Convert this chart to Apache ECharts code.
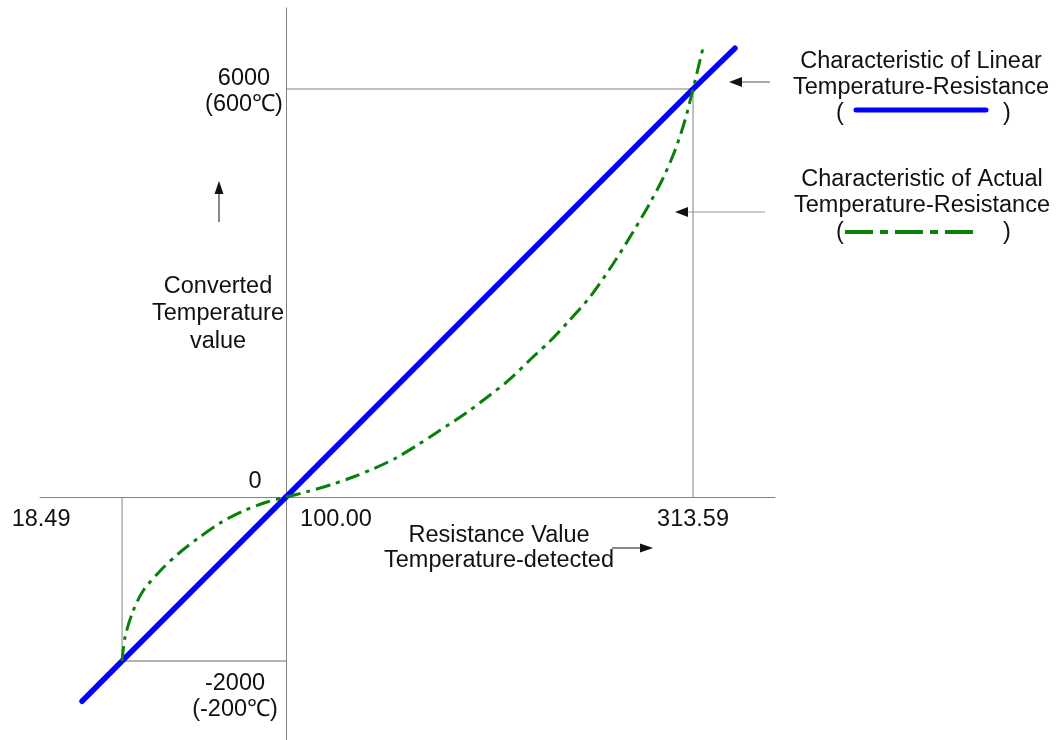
<!DOCTYPE html>
<html>
<head>
<meta charset="utf-8">
<script src="https://cdn.jsdelivr.net/npm/echarts@6/dist/echarts.min.js"></script>
<style>
  html, body { margin: 0; padding: 0; background: #ffffff; }
  #chart { width: 1062px; height: 740px; }
</style>
</head>
<body>
<div id="chart"></div>
<script>
// Resistance (ohm) on x, converted temperature value (0.1 degC units) on y.
// The positive quadrant (100..313.59 ohm, 0..6000) and the negative quadrant
// (18.49..100 ohm, -2000..0) are drawn on two grids with their own scales.

// Linear temperature-resistance characteristic
const linearUpper = [[100, 0], [313.59, 6000], [335.6, 6600]];
const linearLower = [[-1.4, -2490], [18.49, -2000], [100, 0]];

// Actual temperature-resistance characteristic
const actualUpper = [
  [100, 0], [110.5, 74], [123.1, 176], [135.2, 294], [146.7, 426], [157.7, 574],
  [168.2, 750], [178.7, 941], [194.5, 1235], [207.1, 1500], [217.0, 1721],
  [229.6, 2059], [238.6, 2294], [247.5, 2559], [259.5, 2941], [271.6, 3426],
  [282.1, 3897], [291.0, 4324], [297.9, 4691], [304.2, 5103], [309.4, 5544],
  [313.59, 6000], [318.8, 6603]
];
const actualLower = [
  [18.49, -2000], [20.0, -1707], [24.0, -1390], [28.9, -1146], [37.4, -902],
  [46.3, -695], [55.8, -512], [67.2, -317], [78.6, -171], [90.6, -61], [100, 0]
];

// Reference guides at the range limits
const guideUpper = [[313.59, 0], [313.59, 6000], [100, 6000]];
const guideLowerV = [[18.49, 0], [18.49, -2000]];
const guideLowerH = [[18.49, -2000], [100, -2000]];

// Tick labels
const xTickValues = [18.49, 100, 313.59];
const xTickLabels = ['18.49', '100.00', '313.59'];
const yTickValues = [6000, 0, -2000];
const yTickLabels = ['6000\n(600\u2103)', '0', '-2000\n(-200\u2103)'];

// Label placement relative to the tick position (pixels)
const xTickOffsets = [[-81, 23], [50, 23], [0, 23]];
const yTickOffsets = [[-42, 3], [-31, -15], [-51, 35]];

const FONT = '23.5px "Liberation Sans", Arial, sans-serif';
const INK = '#111111';
const AXIS_GREY = '#808080';

const hiddenParts = {
  axisTick: { show: false },
  axisLabel: { show: false },
  splitLine: { show: false }
};
function axisLine() {
  return { show: true, onZero: false, lineStyle: { color: AXIS_GREY, width: 1 } };
}

const chart = echarts.init(document.getElementById('chart'), null, { renderer: 'canvas' });

const option = {
  animation: false,
  backgroundColor: '#ffffff',
  grid: [
    { left: 286, top: 8, width: 489, height: 489, outerBoundsMode: 'none', containLabel: false },
    { left: 40, top: 497, width: 246, height: 243, outerBoundsMode: 'none', containLabel: false }
  ],
  xAxis: [
    Object.assign({ gridIndex: 0, type: 'value', min: 100, max: 356.6, position: 'bottom', axisLine: axisLine() }, hiddenParts),
    Object.assign({ gridIndex: 1, type: 'value', min: -22.3, max: 100, position: 'top', axisLine: axisLine() }, hiddenParts)
  ],
  yAxis: [
    Object.assign({ gridIndex: 0, type: 'value', min: 0, max: 7191, position: 'left', axisLine: axisLine() }, hiddenParts),
    Object.assign({ gridIndex: 1, type: 'value', min: -2963, max: 0, position: 'right', axisLine: axisLine() }, hiddenParts)
  ],
  series: [
    {
      type: 'line', xAxisIndex: 0, yAxisIndex: 0, data: guideUpper, symbol: 'none', silent: true, z: 1,
      lineStyle: { color: AXIS_GREY, width: 1 }
    },
    {
      type: 'line', xAxisIndex: 1, yAxisIndex: 1, data: guideLowerV, symbol: 'none', silent: true, z: 1,
      lineStyle: { color: AXIS_GREY, width: 1 }
    },
    {
      type: 'line', xAxisIndex: 1, yAxisIndex: 1, data: guideLowerH, symbol: 'none', silent: true, z: 1,
      lineStyle: { color: '#b4b4b4', width: 2 }
    },
    {
      name: 'Linear', type: 'line', xAxisIndex: 0, yAxisIndex: 0, data: linearUpper, symbol: 'none', z: 2,
      lineStyle: { color: '#0000ff', width: 5.5, cap: 'round' }
    },
    {
      name: 'Linear', type: 'line', xAxisIndex: 1, yAxisIndex: 1, data: linearLower, symbol: 'none', z: 2,
      lineStyle: { color: '#0000ff', width: 5.5, cap: 'round' }
    },
    {
      name: 'Actual', type: 'line', xAxisIndex: 0, yAxisIndex: 0, data: actualUpper, symbol: 'none', z: 3,
      smooth: 0.3,
      lineStyle: { color: '#0a800a', width: 3, type: [15, 6, 4, 6] }
    },
    {
      name: 'Actual', type: 'line', xAxisIndex: 1, yAxisIndex: 1, data: actualLower, symbol: 'none', z: 3,
      smooth: 0.3,
      lineStyle: { color: '#0a800a', width: 3, type: [15, 6, 4, 6] }
    }
  ]
};
chart.setOption(option);

// ---- annotation helpers ----
function textEl(x, y, str, lineHeight, align) {
  return {
    type: 'text', x: x, y: y, z: 10, silent: true,
    style: {
      text: str, font: FONT, fill: INK,
      align: align || 'center', textAlign: align || 'center',
      verticalAlign: 'middle', textVerticalAlign: 'middle',
      lineHeight: lineHeight || 26
    }
  };
}
function lineEl(x1, y1, x2, y2, color, width) {
  return {
    type: 'line', z: 10, silent: true,
    shape: { x1: x1, y1: y1, x2: x2, y2: y2 },
    style: { stroke: color, lineWidth: width }
  };
}
function headEl(points) {
  return { type: 'polygon', z: 10, silent: true, shape: { points: points }, style: { fill: INK } };
}

function gridOf(x, y) {
  return (x < 100 || y < 0) ? 1 : 0;
}

const graphics = [];

// tick labels, anchored at their tick positions
xTickValues.forEach(function (v, i) {
  const g = gridOf(v, 0);
  const p = chart.convertToPixel({ gridIndex: g }, [v, 0]);
  graphics.push(textEl(p[0] + xTickOffsets[i][0], p[1] + xTickOffsets[i][1], xTickLabels[i]));
});
yTickValues.forEach(function (v, i) {
  const g = gridOf(100, v);
  const p = chart.convertToPixel({ gridIndex: g }, [100, v]);
  graphics.push(textEl(p[0] + yTickOffsets[i][0], p[1] + yTickOffsets[i][1], yTickLabels[i], 26));
});

// axis titles with their arrows
graphics.push(textEl(218, 314, 'Converted\nTemperature\nvalue', 27.5));
graphics.push(lineEl(219, 222, 219, 190, INK, 1));
graphics.push(headEl([[219, 181], [214.5, 194], [223.5, 194]]));

graphics.push(textEl(499, 548, 'Resistance Value\nTemperature-detected', 25));
graphics.push(lineEl(612, 548, 643, 548, INK, 1));
graphics.push(headEl([[653, 548], [640, 543.5], [640, 552.5]]));

// legend: linear characteristic
graphics.push(textEl(921, 75, 'Characteristic of Linear\nTemperature-Resistance', 26));
graphics.push(textEl(840, 114, '('));
graphics.push(textEl(1007, 114, ')'));
graphics.push({
  type: 'line', z: 10, silent: true,
  shape: { x1: 856, y1: 110, x2: 986, y2: 110 },
  style: { stroke: '#0000ff', lineWidth: 5, lineCap: 'round' }
});
graphics.push(lineEl(770, 82, 738, 82, '#555555', 1));
graphics.push(headEl([[729, 82], [742, 77], [742, 87]]));

// legend: actual characteristic
graphics.push(textEl(922, 193, 'Characteristic of Actual\nTemperature-Resistance', 26));
graphics.push(textEl(840, 233, '('));
graphics.push(textEl(1007, 233, ')'));
graphics.push({
  type: 'line', z: 10, silent: true,
  shape: { x1: 845, y1: 232, x2: 973, y2: 232 },
  style: { stroke: '#0a800a', lineWidth: 4, lineDash: [28, 7, 8, 7] }
});
graphics.push(lineEl(765, 212, 684, 212, '#999999', 1));
graphics.push(headEl([[675, 212], [688, 207], [688, 217]]));

chart.setOption({ graphic: graphics });
</script>
</body>
</html>
